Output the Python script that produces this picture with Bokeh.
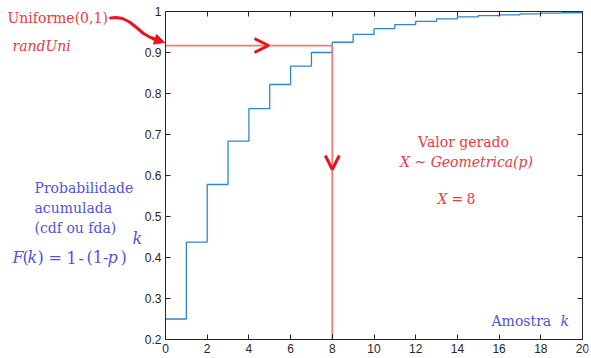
from bokeh.plotting import figure
from bokeh.models import (Range1d, LinearAxis, FixedTicker, CustomJSTickFormatter,
                          Label, Arrow, OpenHead, NormalHead, PolyAnnotation)
from bokeh.embed import file_html
from bokeh.resources import INLINE

# ---- data ----
k_values = list(range(0, 21))
cdf_values = [0.25, 0.4375, 0.578, 0.684, 0.763, 0.822, 0.867, 0.900, 0.925, 0.944,
              0.958, 0.968, 0.976, 0.982, 0.987, 0.990, 0.992, 0.994, 0.996, 0.997, 0.998]
u_value = 0.917          # Uniforme(0,1) sample
x_generated = 8          # generated value X
x_ticks = list(range(0, 21, 2))
y_ticks = [0.2, 0.3, 0.4, 0.5, 0.6, 0.7, 0.8, 0.9, 1.0]

# ---- layout ----
XMIN, XMAX, YMIN, YMAX = 0, 20, 0.2, 1.0
FL, FR, FT, FB = 165, 582, 11, 339   # axes box in page pixels
CL, CR, CT, CB = 2, 588, 3, 356      # drawable area (texts outside the box live there)

def px(xp):
    return XMIN + (xp - FL) * (XMAX - XMIN) / (FR - FL)

def py(yp):
    return YMAX - (yp - FT) * (YMAX - YMIN) / (FB - FT)

W, H = 590, 357
p = figure(width=W, height=H, output_backend="svg", toolbar_location=None,
           x_range=Range1d(px(CL), px(CR)), y_range=Range1d(py(CB), py(CT)),
           min_border_left=CL, min_border_right=W - CR,
           min_border_top=CT, min_border_bottom=H - CB,
           x_axis_type=None, y_axis_type=None)
p.grid.visible = False
p.outline_line_color = None
p.background_fill_color = "white"
p.border_fill_color = "white"

TICK_FONT = "Liberation Sans"
AX_COL = "#262626"
fmt = CustomJSTickFormatter(code="return (Math.round(tick*10)/10).toString();")
blank = CustomJSTickFormatter(code="return '';")

def make_axis(ticks, bounds, show_labels, fixed):
    ax = LinearAxis(ticker=FixedTicker(ticks=ticks), formatter=fmt if show_labels else blank,
                    bounds=bounds, fixed_location=fixed)
    ax.major_tick_in = 5
    ax.major_tick_out = 0
    ax.minor_tick_line_color = None
    ax.axis_line_color = AX_COL
    ax.axis_line_width = 1
    ax.major_tick_line_color = AX_COL
    ax.major_label_text_font = TICK_FONT
    ax.major_label_text_color = AX_COL
    ax.major_label_text_font_size = "12px"
    ax.major_label_standoff = 4 if show_labels else 0
    return ax

p.add_layout(make_axis(x_ticks, (XMIN, XMAX), True, YMIN), "below")
p.add_layout(make_axis(y_ticks, (YMIN, YMAX), True, XMIN), "left")
p.add_layout(make_axis(x_ticks, (XMIN, XMAX), False, YMAX), "above")
p.add_layout(make_axis(y_ticks, (YMIN, YMAX), False, XMAX), "right")

# ---- CDF step ----
p.step(k_values, cdf_values, mode="after", line_color="#2f86cc", line_width=1.3)

# ---- red guide lines ----
LINE_RED = "#f27a7a"
ARROW_RED = "#e8141e"
p.line([XMIN, x_generated], [u_value, u_value], line_color=LINE_RED, line_width=1.8)
p.line([x_generated, x_generated], [u_value, YMIN], line_color=LINE_RED, line_width=1.8)

# chevrons on the lines
p.add_layout(Arrow(x_start=px(254), y_start=u_value, x_end=px(268), y_end=u_value,
                   line_alpha=0,
                   end=OpenHead(line_color=ARROW_RED, line_width=3, size=14)))
p.add_layout(Arrow(x_start=x_generated, y_start=py(155), x_end=x_generated, y_end=py(169),
                   line_alpha=0,
                   end=OpenHead(line_color=ARROW_RED, line_width=3, size=14)))

# curved arrow from "Uniforme(0,1)" to the axis
cx = [110, 116, 122, 129, 136, 143, 150, 156]
cy = [17.5, 17, 18, 21.5, 27, 33, 37, 39]
xs = [px(v) for v in cx] + [px(v) for v in cx[::-1]]
ys = [py(v) for v in cy] + [py(v) for v in cy[::-1]]
p.add_layout(PolyAnnotation(xs=xs, ys=ys, fill_alpha=0, line_color=ARROW_RED,
                            line_alpha=1, line_width=3, line_join="round"))
p.add_layout(Arrow(x_start=px(152), y_start=py(38), x_end=px(164), y_end=py(42),
                   line_color=ARROW_RED, line_width=3,
                   end=NormalHead(line_color=ARROW_RED, fill_color=ARROW_RED,
                                  line_width=1, size=10)))

# ---- texts ----
SERIF = "DejaVu Serif"
TXT_RED = "#ea3b40"
TXT_BLUE = "#5252dc"

def lab(text, xp, yp, color, size=14, style="normal", align="left"):
    p.add_layout(Label(x=px(xp), y=py(yp), text=text, text_font=SERIF,
                       text_font_size=f"{size}px", text_font_style=style,
                       text_color=color, text_align=align, text_baseline="middle"))

lab("Uniforme(0,1)", 7, 17, TXT_RED)
lab("randUni", 12, 45, TXT_RED, style="italic")

lab("Probabilidade", 34, 187, TXT_BLUE)
lab("acumulada", 34, 207, TXT_BLUE)
lab("(cdf ou fda)", 34, 227, TXT_BLUE)
formula = [("F", 12, "italic"), ("(", 22, "normal"), ("k", 27, "italic"),
           (")", 37, "normal"), ("=", 48, "normal"), ("1", 66, "normal"),
           ("-", 78, "normal"), ("(1-", 86, "normal"), ("p", 107, "italic"),
           (")", 120, "normal")]
for t, xp, st in formula:
    lab(t, xp, 257, TXT_BLUE, size=16, style=st)
lab("k", 132, 238, TXT_BLUE, size=16, style="italic")

lab("Valor gerado", 463, 141, TXT_RED, align="center")
lab("X ~ Geometrica(p)", 466, 161, TXT_RED, style="italic", align="center")
lab("X", 437, 198, TXT_RED, style="italic")
lab("=", 451, 198, TXT_RED)
lab("8", 466, 198, TXT_RED)

lab("Amostra", 491, 320, TXT_BLUE)
lab("k", 560, 320, TXT_BLUE, style="italic")

open("out.html", "w").write(file_html(p, INLINE))
